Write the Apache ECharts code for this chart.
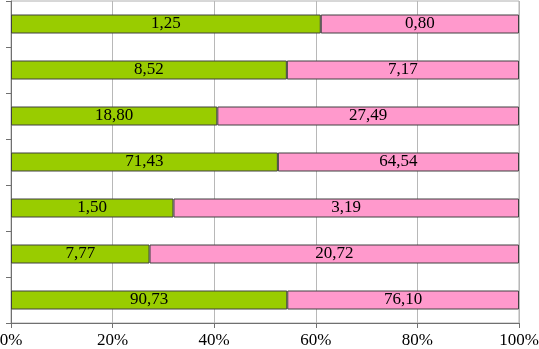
<!DOCTYPE html>
<html>
<head>
<meta charset="utf-8">
<script src="https://cdn.jsdelivr.net/npm/echarts@6/dist/echarts.min.js"></script>
<style>
  html, body { margin: 0; padding: 0; background: #fff; }
  #chart { width: 539px; height: 349px; }
</style>
</head>
<body>
<div id="chart"></div>
<script>
// rows from top to bottom
const categories = ['1', '2', '3', '4', '5', '6', '7']
const greenValues = [1.25, 8.52, 18.80, 71.43, 1.50, 7.77, 90.73]
const pinkValues = [0.80, 7.17, 27.49, 64.54, 3.19, 20.72, 76.10]
const xTicks = ['0%', '20%', '40%', '60%', '80%', '100%']

const fmt = v => v.toFixed(2).replace('.', ',')

const greenShare = greenValues.map((g, i) => g / (g + pinkValues[i]) * 100)
const pinkShare = pinkValues.map((p, i) => p / (greenValues[i] + p) * 100)

const labelStyle = {
    show: true,
    position: 'inside',
    color: '#000',
    fontFamily: 'Liberation Serif',
    fontSize: 17
}

const myChart = echarts.init(document.getElementById('chart'))
myChart.setOption({
    animation: false,
    grid: {
        left: 11,
        right: 20,
        top: 1,
        bottom: 26,
        containLabel: false,
        outerBoundsMode: 'none',
        show: true,
        borderColor: '#b0b0b0',
        borderWidth: 1
    },
    xAxis: {
        type: 'value',
        min: 0,
        max: 100,
        interval: 20,
        axisLine: { show: true, lineStyle: { color: '#707070' } },
        axisTick: { show: true, length: 5, lineStyle: { color: '#707070' } },
        splitLine: { show: true, lineStyle: { color: '#b8b8b8' } },
        axisLabel: {
            color: '#000',
            fontFamily: 'Liberation Serif',
            fontSize: 17,
            margin: 9,
            formatter: v => xTicks[Math.round(v / 20)]
        }
    },
    yAxis: {
        type: 'category',
        inverse: true,
        data: categories,
        axisLine: { show: true, lineStyle: { color: '#707070' } },
        axisTick: { show: true, length: 5, lineStyle: { color: '#707070' } },
        axisLabel: { show: false },
        splitLine: { show: false }
    },
    series: [{
        name: 'A',
        type: 'bar',
        stack: 'total',
        barWidth: 19,
        data: greenShare,
        itemStyle: { color: '#99cc00', borderColor: '#404040', borderWidth: 1 },
        label: { ...labelStyle, formatter: p => fmt(greenValues[p.dataIndex]) }
    }, {
        name: 'B',
        type: 'bar',
        stack: 'total',
        barWidth: 19,
        data: pinkShare,
        itemStyle: { color: '#ff99cc', borderColor: '#404040', borderWidth: 1 },
        label: { ...labelStyle, formatter: p => fmt(pinkValues[p.dataIndex]) }
    }]
})
</script>
</body>
</html>
